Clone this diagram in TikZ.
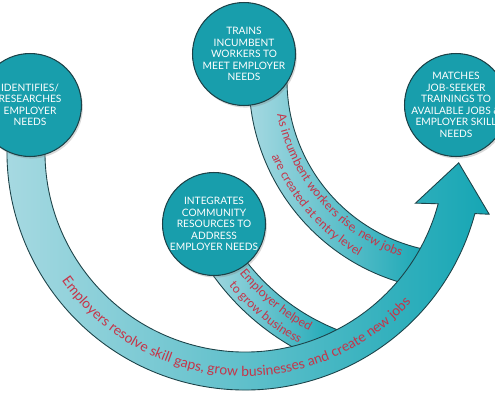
\documentclass[tikz,border=0pt]{standalone}
\usepackage{fontspec}
\setmainfont{Lato}
\usetikzlibrary{calc,shadows,decorations.text}

\definecolor{hubfill}{RGB}{24,158,172}
\definecolor{hubline}{RGB}{28,66,72}
\definecolor{bandlight}{RGB}{172,219,227}
\definecolor{bandmid}{RGB}{96,192,204}
\definecolor{bandteal}{RGB}{22,166,180}
\definecolor{txtred}{RGB}{198,52,72}

\newcommand\arcfont{\fontsize{7.9}{8}\selectfont}
\newcommand\bandfont{\fontsize{7}{7}\selectfont}

\begin{document}
\begin{tikzpicture}[
  x=0.02cm, y=0.02cm,
  hub/.style={circle, draw=hubline, line width=0.6pt, fill=hubfill, minimum size=2.06cm, inner sep=-5pt, align=center, text=white, font=\fontsize{5.8}{6.55}\selectfont, drop shadow={opacity=0.3, shadow xshift=0.8pt, shadow yshift=-1.2pt}},
  band/.style={draw=hubline, line width=0.5pt},
  redtxt/.style={decorate, decoration={text along path, text color=txtred, text align=center, text={#1}}}
]
\useasboundingbox (0,0) rectangle (495,-400);

\coordinate (bigc) at (245,-152);
\coordinate (trainc) at (460,-80);
\coordinate (integc) at (417,-129);

% feeder bands
\shade[band, left color=bandlight, right color=bandteal]
  ($(trainc)+(175:173)$) arc[start angle=175, end angle=260, radius=173]
  -- ($(trainc)+(260:211)$) arc[start angle=260, end angle=175, radius=211] -- cycle;
\shade[band, left color=bandlight, right color=bandteal]
  ($(integc)+(210:216)$) arc[start angle=210, end angle=250, radius=216]
  -- ($(integc)+(250:251)$) arc[start angle=250, end angle=210, radius=251] -- cycle;

% main arrow
\shade[band, left color=bandlight, middle color=bandmid, right color=bandteal]
  ($(bigc)+(170:238)$) arc[start angle=170, end angle=345, radius=238]
  -- ($(bigc)+(345.7:252)$) -- ($(bigc)+(357.1:214)$) -- ($(bigc)+(343.3:178)$)
  -- ($(bigc)+(345:200)$) arc[start angle=345, end angle=170, radius=200] -- cycle;

% texts along the bands
\path[redtxt={|\arcfont|Employers resolve skill gaps, grow businesses and create new jobs}]
  ($(bigc)+(191:224)$) arc[start angle=191, end angle=342, radius=224];
\path[redtxt={|\bandfont|As incumbent workers rise, new jobs}]
  ($(trainc)+(181:186)$) arc[start angle=181, end angle=261, radius=186];
\path[redtxt={|\bandfont|are created at entry level}]
  ($(trainc)+(181:203)$) arc[start angle=181, end angle=261, radius=203];
\path[redtxt={|\bandfont|Employer helped}]
  ($(integc)+(205.5:229)$) arc[start angle=205.5, end angle=255.5, radius=229];
\path[redtxt={|\bandfont|to grow business}]
  ($(integc)+(205.5:245)$) arc[start angle=205.5, end angle=255.5, radius=245];

% the four hubs
\node[hub] (identify) at (30,-105) {IDENTIFIES/\\RESEARCHES\\EMPLOYER\\NEEDS};
\node[hub] (trains) at (244,-54) {TRAINS\\INCUMBENT\\WORKERS TO\\MEET EMPLOYER\\NEEDS};
\node[hub] (integrates) at (214,-224) {INTEGRATES\\COMMUNITY\\RESOURCES TO\\ADDRESS\\EMPLOYER NEEDS};
\node[hub] (matches) at (456,-105) {MATCHES\\JOB-SEEKER\\TRAININGS TO\\AVAILABLE JOBS \&\\EMPLOYER SKILL\\NEEDS};
\end{tikzpicture}
\end{document}
